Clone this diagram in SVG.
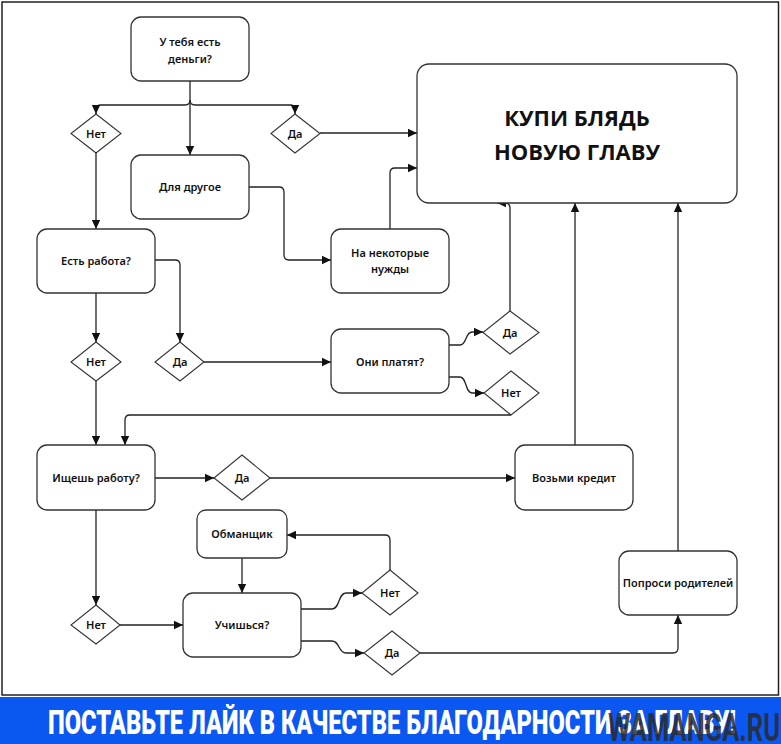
<svg xmlns="http://www.w3.org/2000/svg" width="781" height="744" viewBox="0 0 781 744">
<defs>
<marker id="arr" markerWidth="10" markerHeight="10" refX="9" refY="5" orient="auto" markerUnits="userSpaceOnUse">
<path d="M0,0.8 L9,5 L0,9.2 Z" fill="#111"/>
</marker>
<style>
.box{fill:#fff;stroke:#333;stroke-width:1.3}
.dia{fill:#fff;stroke:#333;stroke-width:1.1}
.t{font-family:"Noto Sans","DejaVu Sans",sans-serif;font-size:11px;fill:#111;text-anchor:middle;font-weight:600}
.big{font-family:"Open Sans","Noto Sans",sans-serif;font-size:22px;font-weight:700;fill:#111;text-anchor:middle}
.c{fill:none;stroke:#222;stroke-width:1.3}
.ca{fill:none;stroke:#222;stroke-width:1.3;marker-end:url(#arr)}
</style>
</defs>
<rect x="0" y="0" width="781" height="744" fill="#fff"/>
<rect x="2" y="2" width="776.5" height="693" fill="none" stroke="#222" stroke-width="1.5"/>

<g id="connectors">
<path class="c" d="M190,81 V100"/>
<path class="ca" d="M190,100 Q190,105 185,105 H101 Q96,105 96,110 V114"/>
<path class="ca" d="M190,100 V155"/>
<path class="ca" d="M190,100 Q190,105 195,105 H290 Q295,105 295,110 V114"/>
<path class="ca" d="M320,133 H417"/>
<path class="ca" d="M249,187 H279 Q284,187 284,192 V255 Q284,260 289,260 H331"/>
<path class="ca" d="M390,229 V173 Q390,168 395,168 H417"/>
<path class="ca" d="M96,153 V229"/>
<path class="ca" d="M155,260 H175 Q180,260 180,265 V342"/>
<path class="ca" d="M96,293 V342"/>
<path class="ca" d="M96,381 V445"/>
<path class="ca" d="M204,362 H331"/>
<path class="ca" d="M449,345 H460 C467,345 465,332 472,332 H483"/>
<path class="ca" d="M449,377 H460 C467,377 465,393 472,393 H484"/>
<path class="ca" d="M510,311 V208 Q510,203 505,203 H497"/>
<path class="ca" d="M511,415 H130 Q125,415 125,420 V445"/>
<path class="ca" d="M96,510 V605"/>
<path class="ca" d="M155,478 H214"/>
<path class="ca" d="M270,478 H515"/>
<path class="ca" d="M575,445 V203"/>
<path class="ca" d="M678,551 V203"/>
<path class="ca" d="M120,625 H183"/>
<path class="ca" d="M242,558 V593"/>
<path class="ca" d="M301,609 H332 C340,609 338,593 346,593 H362"/>
<path class="ca" d="M390,570 V540 Q390,535 385,535 H287"/>
<path class="ca" d="M301,641 H332 C340,641 338,653 346,653 H364"/>
<path class="ca" d="M420,653 H673 Q678,653 678,648 V615"/>
</g>

<g id="n_money"><rect class="box" x="131" y="17" width="118" height="64" rx="10"/><text class="t" x="190" y="46">У тебя есть</text><text class="t" x="190" y="63">деньги?</text></g>
<g id="d_no1"><polygon class="dia" points="96,114 121,133.5 96,153 71,133.5"/><text class="t" x="96" y="137.5">Нет</text></g>
<g id="d_yes1"><polygon class="dia" points="295,114 320,133.5 295,153 271,133.5"/><text class="t" x="295" y="137.5">Да</text></g>
<g id="n_other"><rect class="box" x="131" y="155" width="118" height="64" rx="10"/><text class="t" x="190" y="191">Для другое</text></g>
<g id="n_buy"><rect class="box" x="417" y="64" width="320" height="139" rx="12"/><text class="big" x="577" y="126">КУПИ БЛЯДЬ</text><text class="big" x="577" y="160">НОВУЮ ГЛАВУ</text></g>
<g id="n_job"><rect class="box" x="37" y="229" width="118" height="64" rx="10"/><text class="t" x="96" y="265">Есть работа?</text></g>
<g id="n_needs"><rect class="box" x="331" y="229" width="118" height="64" rx="10"/><text class="t" x="390" y="257">На некоторые</text><text class="t" x="390" y="273">нужды</text></g>
<g id="d_no2"><polygon class="dia" points="96,342 121,362 96,381 71,362"/><text class="t" x="96" y="366">Нет</text></g>
<g id="d_yes2"><polygon class="dia" points="180,342 204,362 180,381 155,362"/><text class="t" x="180" y="366">Да</text></g>
<g id="n_pay"><rect class="box" x="331" y="329" width="118" height="64" rx="10"/><text class="t" x="390" y="366">Они платят?</text></g>
<g id="d_yes3"><polygon class="dia" points="510,311 539,332.5 510,354 483,332.5"/><text class="t" x="510" y="336.5">Да</text></g>
<g id="d_no3"><polygon class="dia" points="511,371 539,393 511,415 484,393"/><text class="t" x="511" y="397">Нет</text></g>
<g id="n_seek"><rect class="box" x="37" y="445" width="118" height="65" rx="10"/><text class="t" x="96" y="482">Ищешь работу?</text></g>
<g id="d_yes4"><polygon class="dia" points="242,455 270,478 242,500 214,478"/><text class="t" x="242" y="482">Да</text></g>
<g id="n_credit"><rect class="box" x="515" y="445" width="118" height="65" rx="10"/><text class="t" x="574" y="482">Возьми кредит</text></g>
<g id="n_cheat"><rect class="box" x="197" y="510" width="90" height="48" rx="9"/><text class="t" x="242" y="538">Обманщик</text></g>
<g id="d_no5"><polygon class="dia" points="390,570 418,593 390,615 362,593"/><text class="t" x="390" y="597">Нет</text></g>
<g id="n_study"><rect class="box" x="183" y="593" width="118" height="64" rx="10"/><text class="t" x="242" y="629">Учишься?</text></g>
<g id="d_no4"><polygon class="dia" points="96,605 120,625 96,644 71,625"/><text class="t" x="96" y="629">Нет</text></g>
<g id="d_yes5"><polygon class="dia" points="392,631 420,653 392,675 364,653"/><text class="t" x="392" y="657">Да</text></g>
<g id="n_parents"><rect class="box" x="619" y="551" width="118" height="64" rx="10"/><text class="t" x="678" y="587">Попроси родителей</text></g>

<g id="banner">
<rect x="0" y="697" width="781" height="47" fill="#0b57f2"/>
<text x="392" y="734" font-family="Roboto,'Liberation Sans',sans-serif" font-weight="900" font-size="33" fill="#fff" text-anchor="middle" textLength="688" lengthAdjust="spacingAndGlyphs">ПОСТАВЬТЕ ЛАЙК В КАЧЕСТВЕ БЛАГОДАРНОСТИ ЗА ГЛАВУ!</text>
<text x="608" y="741" font-family="Roboto,'Liberation Sans',sans-serif" font-weight="700" font-size="38" fill="#2a2a2a" fill-opacity="0.85" textLength="172" lengthAdjust="spacingAndGlyphs">WAMANGA.RU</text>
</g>
</svg>
